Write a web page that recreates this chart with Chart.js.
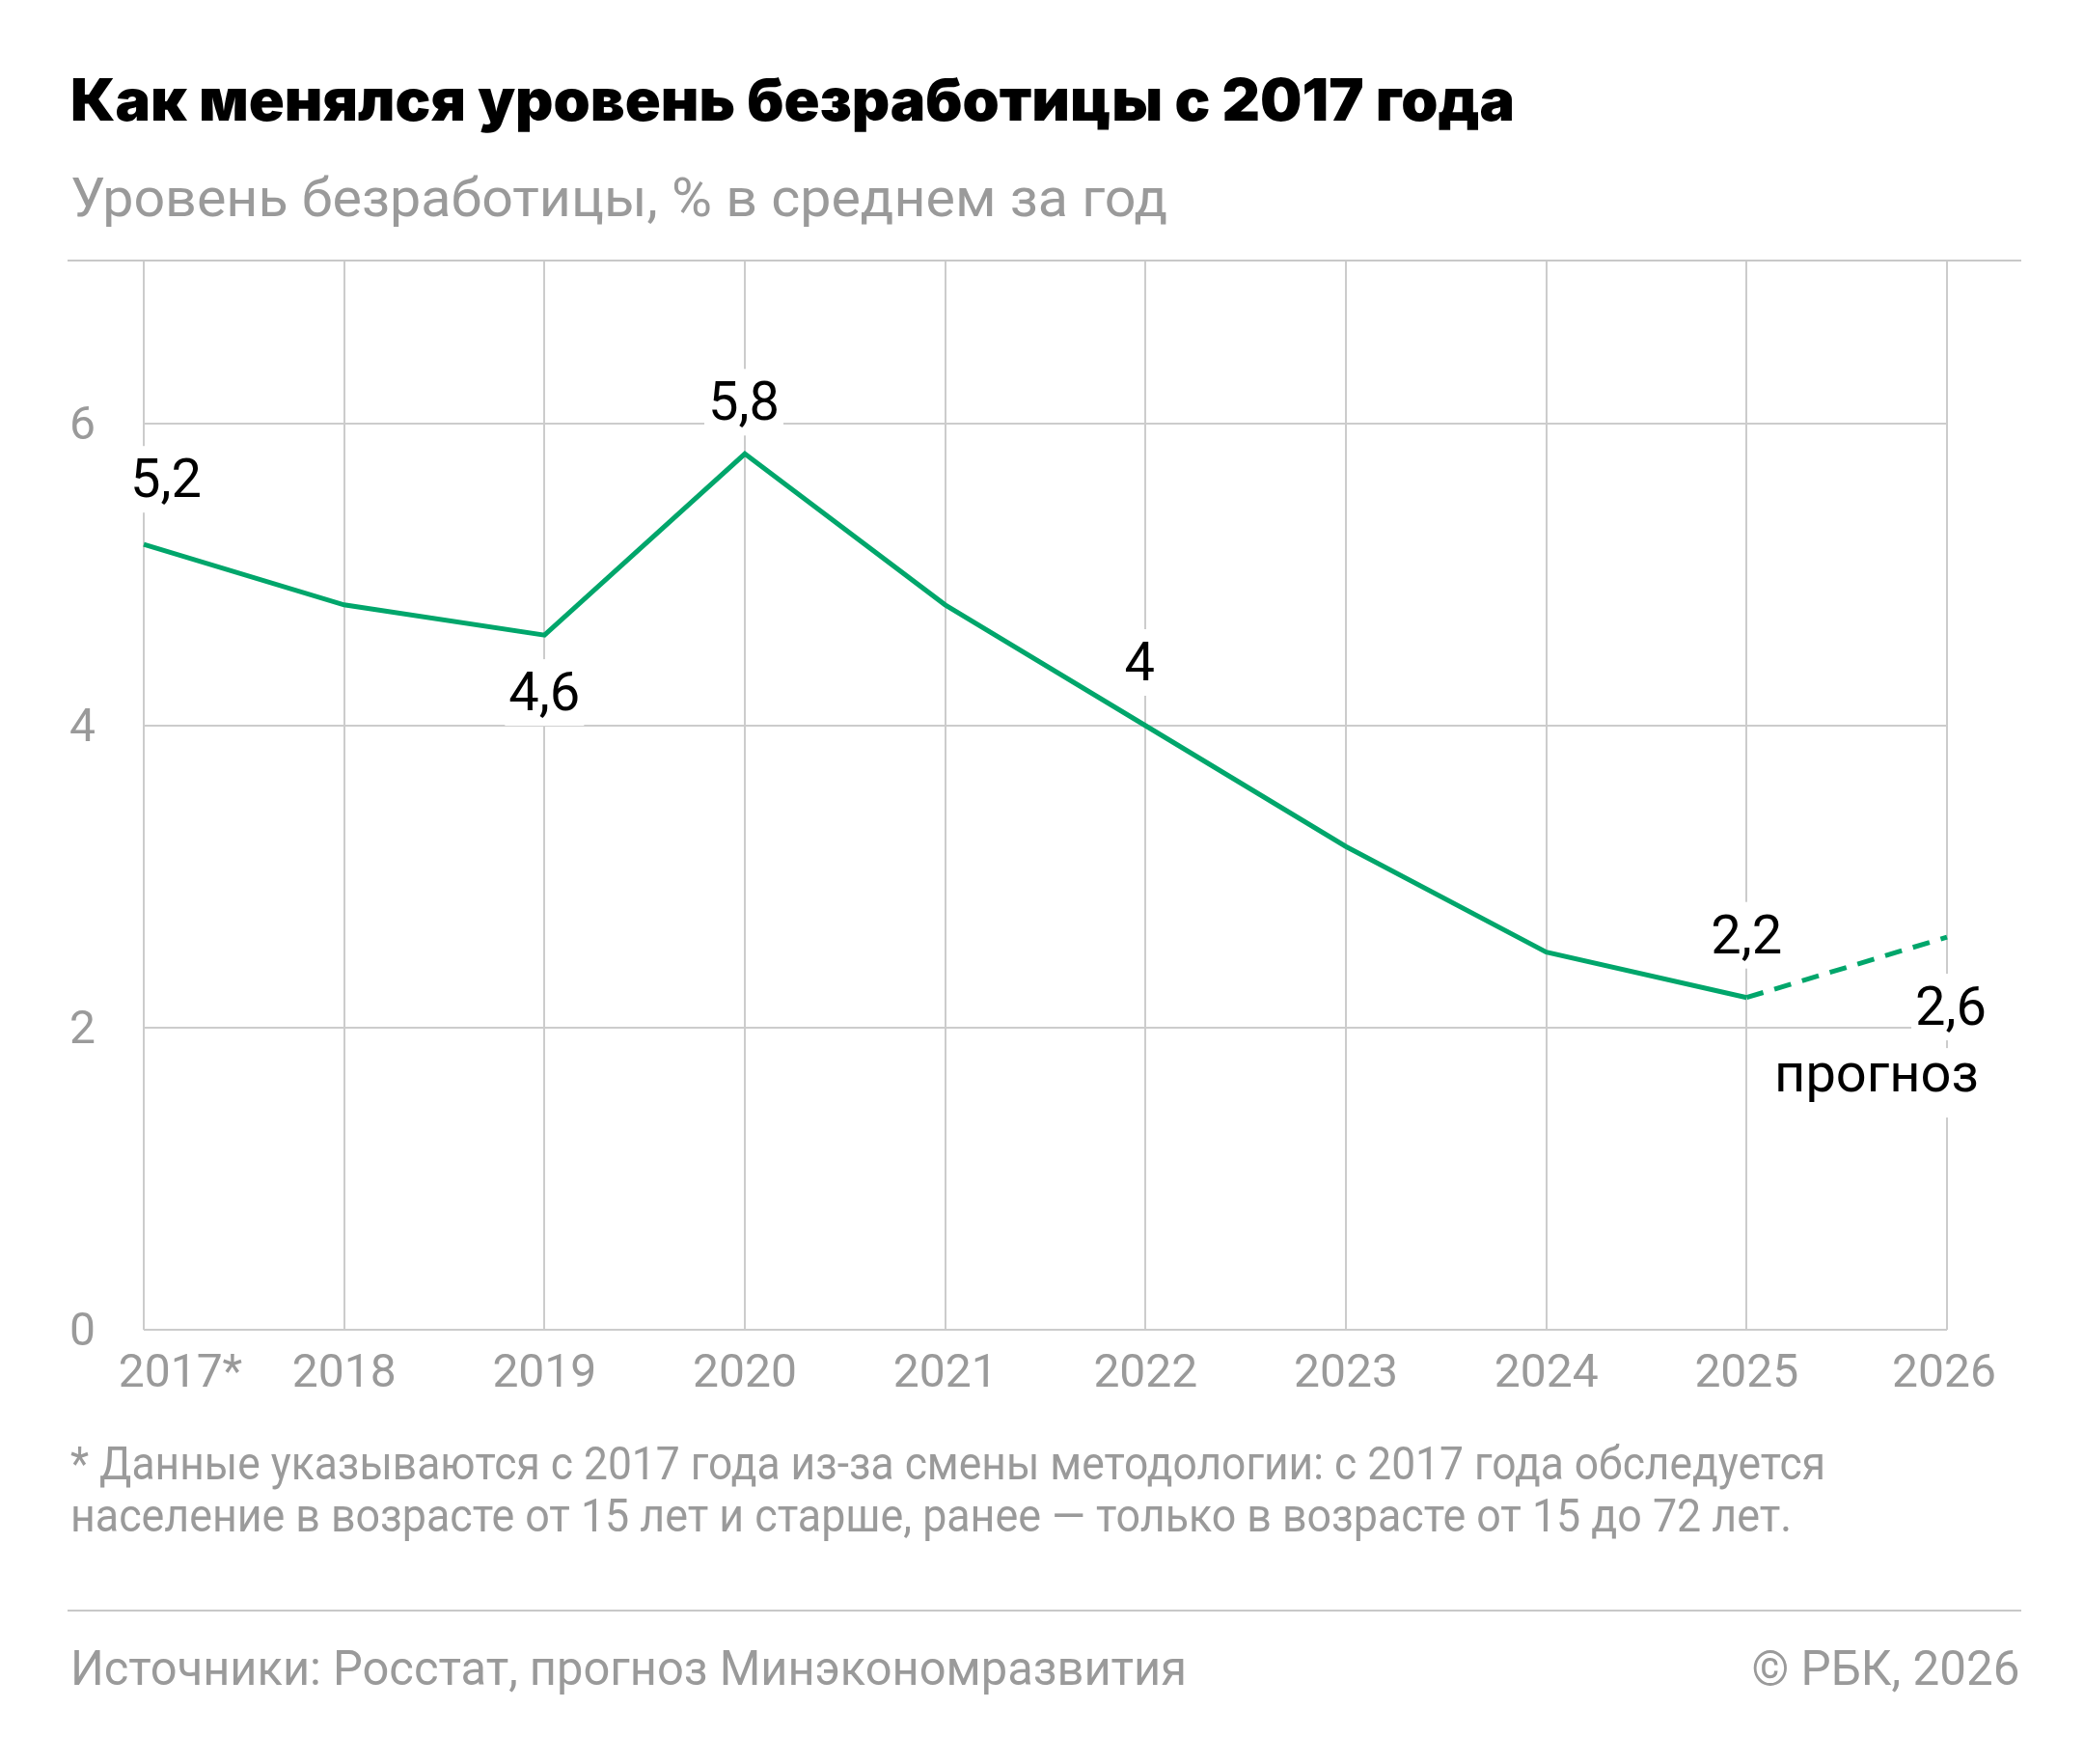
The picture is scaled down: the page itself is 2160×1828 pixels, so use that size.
<!DOCTYPE html>
<html><head><meta charset="utf-8">
<script src="https://cdn.jsdelivr.net/npm/chart.js@4.4.1/dist/chart.umd.min.js"></script>
<style>
html,body{margin:0;padding:0;background:#fff;}
#wrap{position:relative;width:2160px;height:1828px;overflow:hidden;background:#fff;}
#c{position:absolute;left:0;top:0;}
.txt{position:absolute;left:0;top:0;white-space:nowrap;line-height:1;font-family:Roboto,"Noto Sans",sans-serif;}
.rule{position:absolute;height:2px;background:#c8c8c8;}
</style></head>
<body><div id="wrap">
<canvas id="c" width="2160" height="1828"></canvas>
<div class="rule" style="left:70px;width:2025px;top:269px;"></div>
<div class="rule" style="left:70px;width:2025px;top:1668px;"></div>
<div class="txt" data-x="73" data-base="125" data-w="1497" style="font-family:Inter,Roboto,sans-serif;font-size:60px;font-weight:900;color:#000">Как менялся уровень безработицы с 2017 года</div>
<div class="txt" data-x="73" data-base="224" data-w="1137" style="font-size:56px;font-weight:400;color:#9a9a9a">Уровень безработицы, % в среднем за год</div>
<div class="txt" data-x="73" data-base="1533" data-w="1819" style="font-size:48px;font-weight:400;color:#9a9a9a">* Данные указываются с 2017 года из-за смены методологии: с 2017 года обследуется</div>
<div class="txt" data-x="73" data-base="1587" data-w="1784" style="font-size:48px;font-weight:400;color:#9a9a9a">население в возрасте от 15 лет и старше, ранее — только в возрасте от 15 до 72 лет.</div>
<div class="txt" data-x="73" data-base="1746" data-w="1157" style="font-size:50px;font-weight:400;color:#9a9a9a">Источники: Росстат, прогноз Минэкономразвития</div>
<div class="txt" data-x="2094" data-base="1746" data-w="278" data-align="right" style="font-size:50px;font-weight:400;color:#9a9a9a">© РБК, 2026</div>
</div>
<script>
// ---- data ----
const years = ['2017*','2018','2019','2020','2021','2022','2023','2024','2025','2026'];
const unemployment = [5.2, 4.8, 4.6, 5.8, 4.8, 4.0, 3.2, 2.5, 2.2, 2.6];
const yTicks = [0, 2, 4, 6];
const valueLabels = ['5,2', null, '4,6', '5,8', null, '4', null, null, '2,2', '2,6'];
const forecastStart = 8;          // segment from this index onward is a forecast
const forecastNote = 'прогноз';

// ---- style (label placement relative to the point) ----
const labelStyle = {
  0:{dx:23, dy:-49}, 2:{dx:0, dy:78}, 3:{dx:-1, dy:-35}, 5:{dx:-6, dy:-47},
  8:{dx:0, dy:-46}, 9:{dx:4, dy:91}
};
const noteStyle = {dx:-73, dy:160};
const xLabelShift = [38,0,0,0,0,0,0,0,0,-3];
const GREEN = '#00A66B', GRID = '#cccccc', GRAY = '#9a9a9a';
const FONT = 'Roboto, "Noto Sans", sans-serif';

function placeText(el){
  const x = +el.dataset.x, base = +el.dataset.base, w = +el.dataset.w;
  const probe = document.createElement('span');
  probe.style.cssText = 'display:inline-block;width:0;height:0;vertical-align:baseline;';
  el.appendChild(probe);
  const bl = probe.offsetTop;
  el.removeChild(probe);
  const nat = el.getBoundingClientRect().width;
  const s = w ? w / nat : 1;
  el.style.top = (base - bl) + 'px';
  if (el.dataset.align === 'right') {
    el.style.left = (x - nat) + 'px';
    el.style.transformOrigin = 'right center';
  } else {
    el.style.left = x + 'px';
    el.style.transformOrigin = 'left center';
  }
  el.style.transform = 'scaleX(' + s + ')';
}

const annot = {
  id: 'annot',
  afterDatasetsDraw(chart){
    const ctx = chart.ctx;
    const meta = chart.getDatasetMeta(0);
    ctx.save();
    ctx.font = '56px ' + FONT;
    ctx.textAlign = 'center';
    ctx.textBaseline = 'alphabetic';
    const items = [];
    valueLabels.forEach((t, i) => {
      if (!t) return;
      const p = meta.data[i];
      const st = labelStyle[i] || {dx:0, dy:-46};
      items.push({t, x:p.x + st.dx, y:p.y + st.dy, top:53, bot:16});
    });
    const last = meta.data[meta.data.length - 1];
    items.push({t:forecastNote, x:last.x + noteStyle.dx, y:last.y + noteStyle.dy, top:45, bot:27});
    ctx.fillStyle = '#ffffff';
    items.forEach(it => {
      const w = ctx.measureText(it.t).width;
      ctx.fillRect(it.x - w/2 - 4, it.y - it.top, w + 8, it.top + it.bot);
    });
    ctx.fillStyle = '#000000';
    items.forEach(it => ctx.fillText(it.t, it.x, it.y));
    ctx.restore();
  },
  afterDraw(chart){
    const ctx = chart.ctx, xs = chart.scales.x;
    ctx.save();
    ctx.font = '48px ' + FONT;
    ctx.fillStyle = GRAY;
    ctx.textAlign = 'center';
    ctx.textBaseline = 'alphabetic';
    years.forEach((y, i) => {
      ctx.fillText(y, xs.getPixelForValue(i) + xLabelShift[i], chart.chartArea.bottom + 59);
    });
    ctx.restore();
  }
};

function build(){
  document.querySelectorAll('.txt').forEach(placeText);
  new Chart(document.getElementById('c'), {
    type: 'line',
    data: {
      labels: years,
      datasets: [{
        data: unemployment,
        borderColor: GREEN,
        borderWidth: 5,
        pointRadius: 0,
        pointHoverRadius: 0,
        tension: 0,
        fill: false,
        borderCapStyle: 'butt',
        segment: {
          borderDash: ctx => ctx.p0DataIndex >= forecastStart ? [18, 12] : undefined
        }
      }]
    },
    options: {
      responsive: false,
      devicePixelRatio: 1,
      animation: false,
      events: [],
      layout: {padding: {left: 72, right: 142, top: 270, bottom: 450}},
      plugins: {legend: {display: false}, tooltip: {enabled: false}},
      scales: {
        x: {
          type: 'category',
          offset: false,
          grid: {color: GRID, lineWidth: 2, drawTicks: false},
          border: {display: false},
          ticks: {display: false},
          afterFit(s){ s.height = 0; }
        },
        y: {
          min: 0, max: 7.08,
          afterBuildTicks(s){ s.ticks = yTicks.map(v => ({value: v})); },
          grid: {color: GRID, lineWidth: 2, drawTicks: false},
          border: {display: false},
          ticks: {color: GRAY, font: {family: FONT, size: 48}, crossAlign: 'far', padding: 0,
                  labelOffset: 4, callback: v => String(v)},
          afterFit(s){ s.width = 77; }
        }
      }
    },
    plugins: [annot]
  });
}
Promise.all([
  document.fonts.load('900 60px Inter'),
  document.fonts.load('900 62px Roboto'),
  document.fonts.load('400 56px Roboto')
]).catch(()=>{}).then(() => document.fonts.ready).then(build);
</script>
</body></html>
